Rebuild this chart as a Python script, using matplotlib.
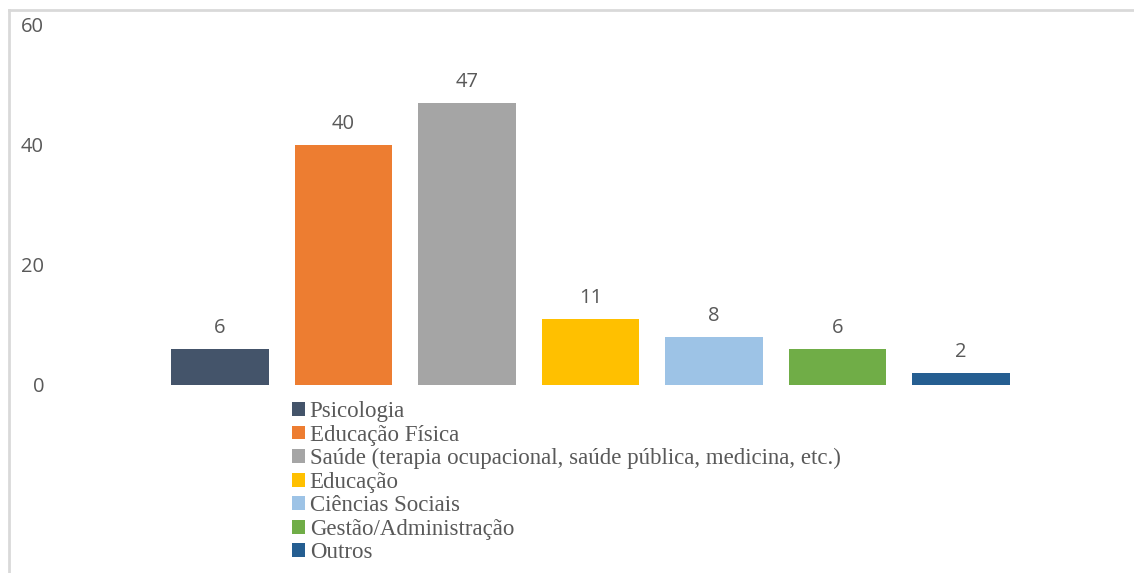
import matplotlib.pyplot as plt
from matplotlib.lines import Line2D
from matplotlib.transforms import ScaledTranslation

categories = ['Psicologia', 'Educação Física',
              'Saúde (terapia ocupacional, saúde pública, medicina, etc.)',
              'Educação', 'Ciências Sociais', 'Gestão/Administração', 'Outros']
values = [6, 40, 47, 11, 8, 6, 2]
colors = ['#44546a', '#ed7d31', '#a5a5a5', '#ffc000', '#9dc3e6', '#70ad47', '#255e91']
yticks = [0, 20, 40, 60]

W, H = 1134, 573
fig = plt.figure(figsize=(W / 100, H / 100), dpi=100)

# axes placed in pixel terms: y 0..60 -> px 385..25
ax_left, ax_right = 60, 1120
ax = fig.add_axes([ax_left / W, (H - 385) / H, (ax_right - ax_left) / W, 360 / H])
x0, step = 220, 123.5
ax.set_xlim((ax_left - x0) / step, (ax_right - x0) / step)
ax.set_ylim(0, 60)

bars = ax.bar(range(len(values)), values, width=0.79, color=colors, label=categories)
for b, v in zip(bars, values):
    ax.annotate(str(v), (b.get_x() + b.get_width() / 2, v), xytext=(0, 8),
                textcoords='offset points', ha='center', va='bottom',
                fontsize=14.5, color='#595959', family='Open Sans')

ax.set_yticks(yticks)
ax.set_yticklabels([str(t) for t in yticks], fontsize=14.5, color='#595959', family='Open Sans')
ax.tick_params(axis='y', length=0, pad=0)
ax.set_xticks([])
for s in ax.spines.values():
    s.set_visible(False)

# tick labels right-aligned ending at x ~ 44 px
off = ScaledTranslation((44 - ax_left) / 100, 0, fig.dpi_scale_trans)
for lab in ax.get_yticklabels():
    lab.set_transform(lab.get_transform() + off)

leg = ax.legend(handles=list(bars), labels=categories, loc='upper left',
                bbox_to_anchor=(292 / W, 1 - 401 / H), bbox_transform=fig.transFigure,
                frameon=False, prop={'family': 'Liberation Serif', 'size': 16.5},
                handlelength=0.55, handleheight=0.55, handletextpad=0.22,
                labelspacing=0.11, borderpad=0, borderaxespad=0)
for t in leg.get_texts():
    t.set_color('#595959')

# outer frame lines
fig.add_artist(Line2D([9 / W, 1], [1 - 10 / H, 1 - 10 / H], color='#d9d9d9', lw=2))
fig.add_artist(Line2D([9 / W, 9 / W], [0, 1 - 10 / H], color='#d9d9d9', lw=2))

fig.savefig('out.png', dpi=100)
